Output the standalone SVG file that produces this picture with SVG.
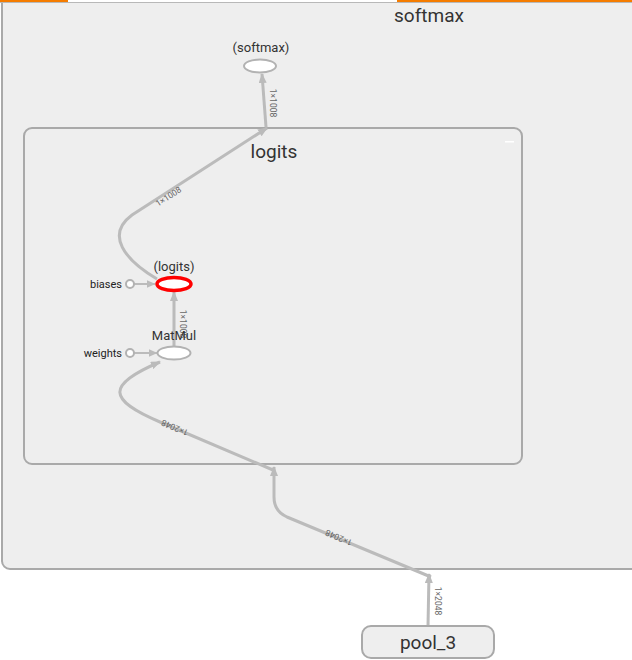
<svg xmlns="http://www.w3.org/2000/svg" width="632" height="660" viewBox="0 0 632 660">
<style>
.box{fill:#eeeeee;stroke:#a9a9a9;stroke-width:2}
.title{font-family:Roboto,"Liberation Sans",sans-serif;font-size:19px;fill:#333;text-anchor:middle}
.lbl{font-family:Roboto,"Liberation Sans",sans-serif;font-size:13px;fill:#333;text-anchor:middle}
.side{font-family:Roboto,"Liberation Sans",sans-serif;font-size:11px;fill:#222;text-anchor:end}
.elbl{font-family:Roboto,"Liberation Sans",sans-serif;font-size:8.5px;fill:#666;text-anchor:middle}
.op{fill:#fff;stroke:#b2b2b2;stroke-width:2}
.edge{fill:none;stroke:#bbbbbb;stroke-width:3}
.thin{fill:none;stroke:#bbbbbb;stroke-width:2}
</style>
<defs>
<marker id="ah" markerWidth="10" markerHeight="8" refX="9" refY="4" orient="auto" markerUnits="userSpaceOnUse">
<path d="M0,0 L10,4 L0,8 Z" fill="#bbbbbb"/>
</marker>
<marker id="ahs" markerWidth="9" markerHeight="8" refX="8.5" refY="4" orient="auto" markerUnits="userSpaceOnUse">
<path d="M0,0 L9,4 L0,8 Z" fill="#bbbbbb"/>
</marker>
</defs>
<rect width="632" height="660" fill="#ffffff"/>
<g id="softmax">
<rect class="box" x="2" y="-20" width="660" height="589" rx="8"/>
<text class="title" x="429" y="22">softmax</text>
</g>
<rect x="0" y="0" width="68" height="2" fill="#f57c00"/>
<rect x="68" y="0" width="329" height="2" fill="#ffffff"/>
<rect x="397" y="0" width="235" height="2" fill="#f57c00"/>
<rect x="0" y="2" width="632" height="1" fill="#b8b8b8"/>
<g id="logits">
<rect class="box" x="24" y="128" width="498" height="336" rx="8"/>
<text class="title" x="274" y="158">logits</text>
<rect x="505" y="141" width="9" height="1.5" fill="#ffffff"/>
</g>
<g id="connectors">
<path class="edge" d="M428,626 L429,574" marker-end="url(#ah)"/>
<text class="elbl" transform="translate(435,601) rotate(90)">1×2048</text>
<path class="edge" d="M431,577 L287,517 C278,513 274,506 274,497 L274,467" marker-end="url(#ah)"/>
<text class="elbl" transform="translate(340,535) rotate(202.7)">1×2048</text>
<path class="edge" d="M273,470 L160,422 C108,400 105,385 160,362" marker-end="url(#ah)"/>
<text class="elbl" transform="translate(176,425) rotate(202.7)">1×2048</text>
<path class="edge" d="M174,347 L174,292" marker-end="url(#ah)"/>
<text class="elbl" transform="translate(180,324) rotate(90)">1×1008</text>
<path class="edge" d="M157,279 C125,260 105,235 132,215 L267,128" marker-end="url(#ah)"/>
<text class="elbl" transform="translate(170,199) rotate(-33)">1×1008</text>
<path class="edge" d="M266,127 L262,74" marker-end="url(#ah)"/>
<text class="elbl" transform="translate(270,103) rotate(90)">1×1008</text>
<path class="thin" d="M134,284 L155,284" marker-end="url(#ahs)"/>
<path class="thin" d="M134,353 L157,353" marker-end="url(#ahs)"/>
</g>
<g id="softmax_op">
<ellipse class="op" cx="260" cy="66" rx="16" ry="6.5"/>
<text class="lbl" x="261" y="52">(softmax)</text>
</g>
<g id="logits_op">
<ellipse cx="174" cy="284" rx="17" ry="6.5" fill="#fff" stroke="#ff0000" stroke-width="3.5"/>
<text class="lbl" x="174" y="271">(logits)</text>
</g>
<g id="matmul">
<ellipse class="op" cx="174" cy="353" rx="16.5" ry="6.5"/>
<text class="lbl" x="174" y="340">MatMul</text>
</g>
<g id="biases">
<circle class="op" cx="130" cy="284" r="4"/>
<text class="side" x="122" y="288">biases</text>
</g>
<g id="weights">
<circle class="op" cx="130" cy="353" r="4"/>
<text class="side" x="122" y="357">weights</text>
</g>
<g id="pool_3">
<rect x="362" y="626" width="132" height="32" rx="9" fill="#eeeeee" stroke="#a9a9a9" stroke-width="2"/>
<text class="title" x="428" y="649">pool_3</text>
</g>
</svg>
